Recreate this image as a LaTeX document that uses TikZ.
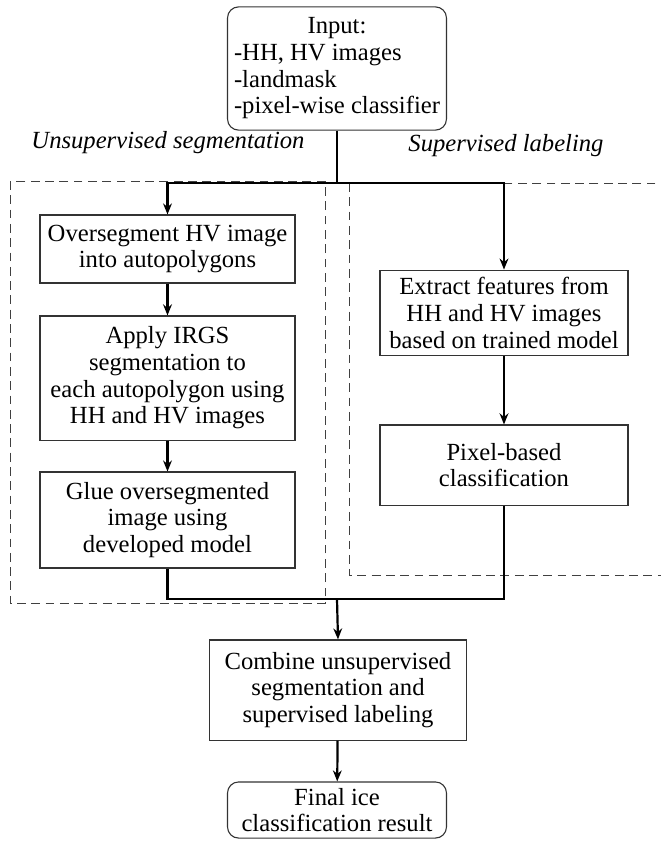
\documentclass[tikz,border=0pt]{standalone}
\usepackage{fontspec}
\setmainfont{Liberation Serif}
\usetikzlibrary{arrows.meta}

\newcommand{\boxfont}{\fontsize{11.2}{12.1}\selectfont}

\tikzset{
	stage/.style={draw=black!80, line width=0.5pt, rectangle, align=center, inner sep=2pt},
	endbox/.style={stage, rounded corners=5pt},
	flow/.style={-{Stealth[length=5pt,width=4pt]}, line width=1pt},
	link/.style={line width=1pt},
	region/.style={draw=black!75, line width=0.4pt, dash pattern=on 4pt off 2.5pt},
	areatitle/.style={font=\boxfont\itshape},
}

\begin{document}
\begin{tikzpicture}[x=0.4545pt, y=-0.4545pt, font=\boxfont]
	\useasboundingbox (0,0) rectangle (661,842);

	% dashed areas
	\draw[region] (10,181) rectangle (325,603);
	\draw[region] (349,183) rectangle (668,575);
	\node[areatitle] (unsup) at (168,143) {Unsupervised segmentation};
	\node[areatitle] (sup) at (506,146) {Supervised labeling};

	% boxes
	\node[endbox, minimum width=99.5pt, minimum height=56pt] (input) at (337,68.5)
		{\begin{tabular}{@{}l@{}}\multicolumn{1}{c}{Input:}\\-HH, HV images\\-landmask\\-pixel-wise classifier\end{tabular}};
	\node[stage, minimum width=115.9pt, minimum height=30.9pt] (ovs) at (167.5,249)
		{Oversegment HV image\\into autopolygons};
	\node[stage, minimum width=115.9pt, minimum height=56.4pt] (irgs) at (167.5,378)
		{Apply IRGS\\segmentation to\\each autopolygon using\\HH and HV images};
	\node[stage, minimum width=115.9pt, minimum height=43.6pt] (glue) at (167.5,520)
		{Glue oversegmented\\image using\\developed model};
	\node[stage, minimum width=112.7pt, minimum height=39pt] (feat) at (504,313)
		{Extract features from\\HH and HV images\\based on trained model};
	\node[stage, minimum width=112.7pt, minimum height=36.4pt] (pix) at (504,465)
		{Pixel-based\\classification};
	\node[stage, minimum width=116.4pt, minimum height=45.5pt] (comb) at (338,690)
		{Combine unsupervised\\segmentation and\\supervised labeling};
	\node[endbox, minimum width=99.5pt, minimum height=25.5pt] (result) at (337,810)
		{Final ice\\classification result};

	% connectors
	\coordinate (split) at (337,183);
	\coordinate (merge) at (337,599);
	\draw[link] (input.south) -- (split);
	\draw[flow] (split) -| (ovs.north);
	\draw[flow] (split) -| (feat.north);
	\draw[flow] (ovs) -- (irgs);
	\draw[flow] (irgs) -- (glue);
	\draw[flow] (feat) -- (pix);
	\draw[link] (glue.south) |- (merge);
	\draw[link] (pix.south) |- (merge);
	\draw[flow] (merge) -- (comb.north);
	\draw[flow] (comb) -- (result);
\end{tikzpicture}
\end{document}
